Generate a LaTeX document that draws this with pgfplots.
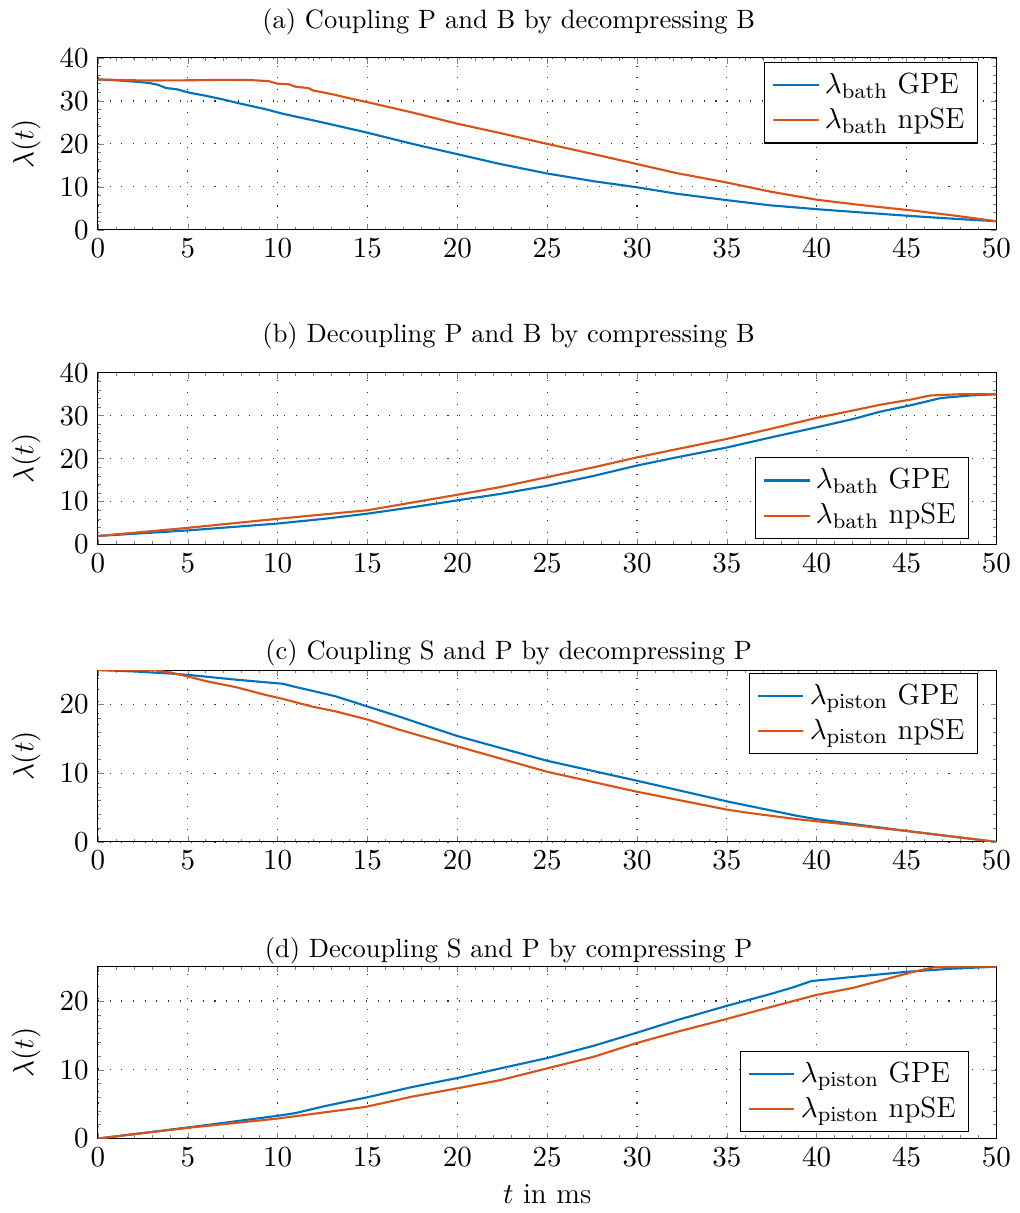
\documentclass[border=0pt]{standalone}
\usepackage{pgfplots}
\pgfplotsset{compat=1.18}
\definecolor{mblue}{RGB}{0,114,189}
\definecolor{morange}{RGB}{217,83,25}

\pgfplotstableread{
t l
0 35.0
1 34.8
2 34.5
2.8 34.2
3.3 33.8
3.8 33.0
4.4 32.7
5.1 31.9
6.0 31.2
7.0 30.3
8.0 29.3
9.3 28.1
10.3 27.0
12.6 24.9
14.9 22.7
17.5 20.0
19.9 17.7
22.4 15.3
25 13.1
27.6 11.3
30 9.9
32.2 8.4
35 6.9
37.4 5.7
40 4.8
42.6 4.0
45.3 3.2
47.5 2.6
50 2.0
}\aGPE
\pgfplotstableread{
t l
0 35.0
2 34.8
3 34.75
5 34.8
7 34.9
8.5 34.85
9.5 34.6
10.0 34.0
10.6 33.9
11.0 33.3
11.7 33.0
12 32.4
13 31.6
14 30.6
15 29.7
17.5 27.3
20 24.7
22.4 22.5
25 20.0
27.6 17.6
30 15.3
32.2 13.2
35 11.0
37.4 8.9
40 7.0
42.6 5.7
45.3 4.5
47.5 3.4
50 2.0
}\anpSE
\pgfplotstableread{
t l
0 2.0
5 3.3
10 4.9
12.6 6.0
15 7.2
17.5 8.7
20 10.3
22.4 11.8
25 13.7
27.6 16.0
30 18.4
32.2 20.3
35 22.6
37.4 24.9
40 27.3
42 29.2
43.6 31.0
45.3 32.5
46.9 34.1
48.5 34.7
50 35.0
}\bGPE
\pgfplotstableread{
t l
0 2.0
5 3.9
10 6.0
15 8.0
17.5 9.8
20 11.6
22.4 13.4
25 15.7
27.6 18.0
30 20.3
32.2 22.2
35 24.6
37.4 26.9
40 29.5
42 31.2
43.6 32.6
45.3 33.8
46.3 34.7
48 35.0
50 35.0
}\bnpSE
\pgfplotstableread{
t l
0 25
2 24.8
4 24.5
5 24.3
7.7 23.6
10.3 23.0
10.9 22.6
11.9 22.0
13.2 21.2
15 19.7
16.8 18.2
20 15.4
25 11.8
30 8.9
35 5.9
38.9 3.8
40 3.3
42.6 2.4
45.3 1.5
47.5 0.8
50 0
}\cGPE
\pgfplotstableread{
t l
0 25
3.1 25
4.1 24.6
5.1 24.0
6.0 23.4
7.7 22.5
9.3 21.4
10.3 20.8
11.9 19.7
13.2 19.0
15 17.8
16.8 16.3
20 13.9
25 10.2
30 7.3
35 4.7
36 4.3
38.9 3.3
40 3.0
42.6 2.3
45.3 1.5
50 0
}\cnpSE
\pgfplotstableread{
t l
0 0
5 1.6
10 3.3
11 3.7
12.6 4.7
15 6.0
17.5 7.5
20 8.8
22.4 10.2
25 11.7
27.6 13.5
30 15.4
32.2 17.2
35 19.3
37.4 21.0
38.7 22.0
39.7 22.9
42 23.5
45 24.25
47.5 24.7
50 25
}\dGPE
\pgfplotstableread{
t l
0 0
5 1.55
10 2.9
14.9 4.6
17.5 6.1
20 7.3
22.4 8.5
25 10.2
27.6 11.9
30 13.9
32.2 15.5
35 17.4
37.4 19.1
40 20.9
42 21.9
43.6 23.0
45.3 24.2
46.5 24.9
48 25
50 25
}\dnpSE

\pgfplotsset{
  lam/.style={
    width=339.3pt, height=64.9pt, scale only axis,
    anchor=north west,
    xmin=0, xmax=50, xtick={0,5,...,50}, ymin=0,
    minor x tick num=4, minor y tick num=4,
    xmajorgrids, ymajorgrids,
    major grid style={loosely dotted, black!80, line width=0.45pt},
    major tick length=2.2pt, minor tick length=1.2pt,
    tick label style={font=\fontsize{11}{13}\selectfont},
    label style={font=\fontsize{11}{13}\selectfont},
    ylabel={$\lambda(t)$},
    ylabel style={at={(axis description cs:-0.08,0.5)}, anchor=center},
    legend cell align=left,
    legend style={draw=black, fill=white, font=\fontsize{11}{13}\selectfont},
    every axis plot/.append style={line width=0.8pt},
  },
  ttl/.style={title style={at={(axis description cs:0.5,1)}, anchor=base, xshift=-14.53pt, yshift=#1}},
}

\begin{document}
\begin{tikzpicture}
\path (-36.99pt,21.89pt) rectangle (346.83pt,-435.9pt);

\begin{axis}[lam, at={(0pt,0pt)}, ymax=40, ytick={0,10,...,40},
  title={(a) Coupling P and B by decompressing B}, ttl=4.94pt,
  legend style={at={(0.98,0.978)}, anchor=north east}]
\addplot[mblue] table[x=t,y=l] {\aGPE};
\addlegendentry{$\lambda_\mathrm{bath}$ GPE}
\addplot[morange] table[x=t,y=l] {\anpSE};
\addlegendentry{$\lambda_\mathrm{bath}$ npSE}
\end{axis}

\begin{axis}[lam, at={(0pt,-118.88pt)}, ymax=40, ytick={0,10,...,40},
  title={(b) Decoupling P and B by compressing B}, ttl=5.55pt,
  legend style={at={(0.97,0.033)}, anchor=south east}]
\addplot[mblue] table[x=t,y=l] {\bGPE};
\addlegendentry{$\lambda_\mathrm{bath}$ GPE}
\addplot[morange] table[x=t,y=l] {\bnpSE};
\addlegendentry{$\lambda_\mathrm{bath}$ npSE}
\end{axis}

\begin{axis}[lam, at={(0pt,-231.16pt)}, ymax=25, ytick={0,10,20},
  title={(c) Coupling S and P by decompressing P}, ttl=-1.85pt,
  legend style={at={(0.98,0.985)}, anchor=north east}]
\addplot[mblue] table[x=t,y=l] {\cGPE};
\addlegendentry{$\lambda_\mathrm{piston}$ GPE}
\addplot[morange] table[x=t,y=l] {\cnpSE};
\addlegendentry{$\lambda_\mathrm{piston}$ npSE}
\end{axis}

\begin{axis}[lam, at={(0pt,-343.17pt)}, ymax=25, ytick={0,10,20},
  title={(d) Decoupling S and P by compressing P}, ttl=-2.6pt,
  xlabel={$t$ in ms},
  xlabel style={at={(axis description cs:0.5,-0.326)}, anchor=center},
  legend style={at={(0.97,0.035)}, anchor=south east}]
\addplot[mblue] table[x=t,y=l] {\dGPE};
\addlegendentry{$\lambda_\mathrm{piston}$ GPE}
\addplot[morange] table[x=t,y=l] {\dnpSE};
\addlegendentry{$\lambda_\mathrm{piston}$ npSE}
\end{axis}
\end{tikzpicture}
\end{document}
